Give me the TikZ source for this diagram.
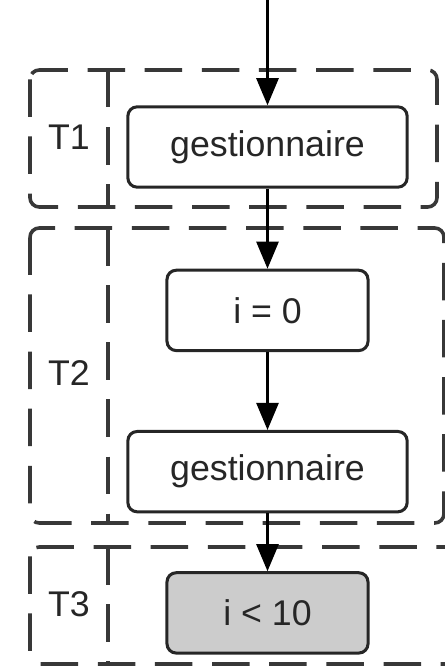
\documentclass[tikz,border=0pt]{standalone}
\usepackage{fontspec}
\setmainfont{Liberation Sans}
\usetikzlibrary{positioning, arrows.meta}
\definecolor{ink}{gray}{0.15}
\definecolor{laneink}{gray}{0.22}
\definecolor{cond}{gray}{0.8}
\tikzset{%
  proc/.style = {rectangle, draw=ink, line width=0.85pt, rounded corners=2.6pt,
                 fill=white, text=ink, inner sep=0pt,
                 minimum height=22.5pt, font=\fontsize{10}{12}\selectfont},
  test/.style = {proc, fill=cond},
  lane/.style = {draw=laneink, line width=1pt, rounded corners=2.6pt,
                 dash pattern=on 10.5pt off 5.5pt},
  laneLabel/.style = {text=ink, font=\fontsize{10}{12}\selectfont},
  flow/.style = {-{Triangle[length=7.6pt,width=6.2pt]}, draw=black, line width=0.7pt}
  }

\begin{document}
\begin{tikzpicture}[x=0.28pt, y=-0.28pt]
  \useasboundingbox (0,0) rectangle (445,667);
  \clip (0,0) rectangle (445,667);

  % the three lanes
  \draw[lane] (30,70) rectangle (437,207);
  \draw[lane] (108,70) -- (108,207);
  \node[laneLabel] (t1) at (69,137) {T1};

  \draw[lane] (30,228) rectangle (444,523);
  \draw[lane] (108,228) -- (108,523);
  \node[laneLabel] (t2) at (69,373) {T2};

  \draw[lane] (30,547) rectangle (460,664);
  \draw[lane] (108,547) -- (108,664);
  \node[laneLabel] (t3) at (69,604) {T3};

  % steps
  \coordinate (in) at (267.5,0);
  \node[proc, minimum width=78.2pt] (gest) at (267.5,147) {gestionnaire};
  \node[proc, minimum width=56.3pt, below = 22.4pt of gest] (init) {i = 0};
  \node[proc, minimum width=78.2pt, below = 21.8pt of init] (gestB) {gestionnaire};
  \node[test, minimum width=56.3pt, below = 16.2pt of gestB] (cmp) {i < 10};

  \draw[flow] (in) -- (gest);
  \draw[flow] (gest) -- (init);
  \draw[flow] (init) -- (gestB);
  \draw[flow] (gestB) -- (cmp);
\end{tikzpicture}
\end{document}
